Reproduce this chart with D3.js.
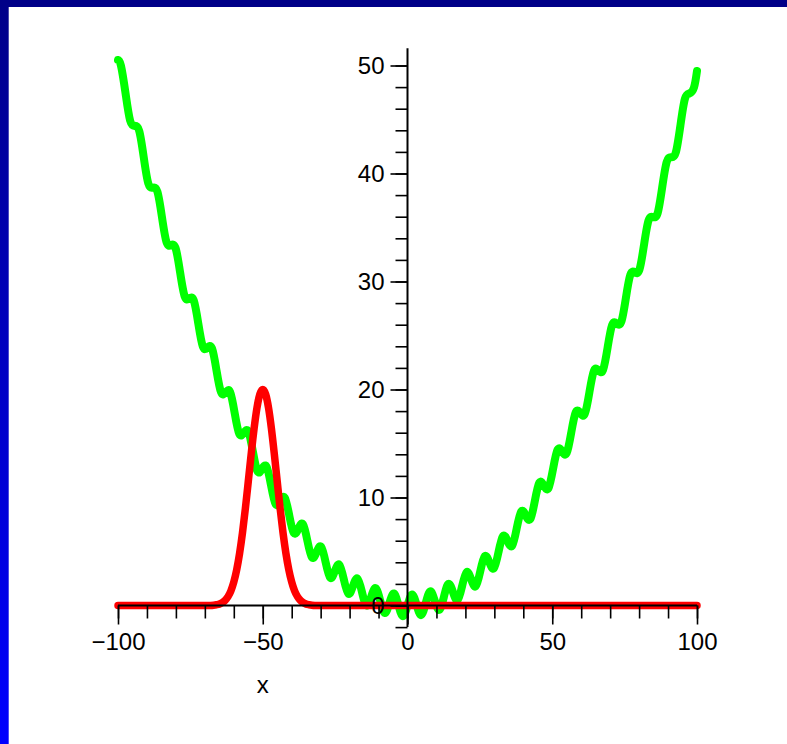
<!DOCTYPE html>
<html>
<head>
<meta charset="utf-8">
<script src="https://cdn.jsdelivr.net/npm/d3@7"></script>
<style>
  html, body { margin: 0; padding: 0; background: #ffffff; }
  svg { display: block; }
  text { font-family: "Liberation Sans", Arial, Helvetica, sans-serif; }
</style>
</head>
<body>
<svg id="chart" width="787" height="744"></svg>
<script>
// ---------- data ----------
const xMajorTicks = [-100, -50, 0, 50, 100];
const xMinorTicks = [-100, -90, -80, -70, -60, -50, -40, -30, -20, -10, 0, 10, 20, 30, 40, 50, 60, 70, 80, 90, 100];
const yMajorTicks = [0, 10, 20, 30, 40, 50];
const yMinorTicks = [-2, 0, 2, 4, 6, 8, 10, 12, 14, 16, 18, 20, 22, 24, 26, 28, 30, 32, 34, 36, 38, 40, 42, 44, 46, 48, 50];
const xLabel = "x";

// green curve samples (x, y)
const greenX = [-100, -98.96, -97.39, -95.82, -94.25, -92.68, -91.11, -89.54, -87.96, -86.39, -84.82,
  -83.25, -81.68, -80.11, -78.54, -76.97, -75.40, -73.83, -72.26, -70.69, -69.12,
  -67.54, -65.97, -64.40, -62.83, -61.26, -59.69, -58.12, -56.55, -54.98, -53.41,
  -51.84, -50.27, -48.69, -47.12, -45.55, -43.98, -42.41, -40.84, -39.27, -37.70,
  -36.13, -34.56, -32.99, -31.42, -29.85, -28.27, -26.70, -25.13, -23.56, -21.99,
  -20.42, -18.85, -17.28, -15.71, -14.14, -12.57, -11.00, -9.42, -7.85, -6.28,
  -4.71, -3.14, -1.57, 0,
  1.57, 3.14, 4.71, 6.28, 7.85, 9.42, 11.00, 12.57, 14.14, 15.71,
  17.28, 18.85, 20.42, 21.99, 23.56, 25.13, 26.70, 28.27, 29.85, 31.42,
  32.99, 34.56, 36.13, 37.70, 39.27, 40.84, 42.41, 43.98, 45.55, 47.12,
  48.69, 50.27, 51.84, 53.41, 54.98, 56.55, 58.12, 59.69, 61.26, 62.83,
  64.40, 65.97, 67.54, 69.12, 70.69, 72.26, 73.83, 75.40, 76.97, 78.54,
  80.11, 81.68, 83.25, 84.82, 86.39, 87.96, 89.54, 91.11, 92.68, 94.25,
  95.82, 97.39, 98.96, 100];
const greenY = [50.51, 49.97, 47.42, 44.91, 44.41, 43.95, 41.50, 39.08, 38.69, 38.32, 35.97,
  33.65, 33.36, 33.09, 30.84, 28.62, 28.42, 28.25, 26.11, 23.98, 23.88,
  23.81, 21.76, 19.74, 19.74, 19.76, 17.81, 15.89, 15.99, 16.11, 14.26,
  12.43, 12.63, 12.86, 11.10, 9.38, 9.67, 9.99, 8.34, 6.71, 7.11,
  7.53, 5.97, 4.44, 4.93, 5.45, 4.00, 2.57, 3.16, 3.78, 2.42,
  1.09, 1.78, 2.49, 1.23, 0.00, 0.79, 1.60, 0.44, -0.69, 0.20,
  1.11, 0.05, -0.99, 0,
  1.01, 0.05, -0.89, 0.20, 1.31, 0.44, -0.40, 0.79, 2.00, 1.23,
  0.49, 1.78, 3.09, 2.42, 1.78, 3.16, 4.57, 4.00, 3.45, 4.93,
  6.44, 5.97, 5.53, 7.11, 8.71, 8.34, 7.99, 9.67, 11.38, 11.10,
  10.86, 12.63, 14.43, 14.26, 14.11, 15.99, 17.89, 17.81, 17.76, 19.74,
  21.74, 21.76, 21.81, 23.88, 25.98, 26.11, 26.25, 28.42, 30.62, 30.84,
  31.09, 33.36, 35.65, 35.97, 36.32, 38.69, 41.08, 41.50, 41.95, 44.41,
  46.91, 47.42, 47.97, 49.49];

// red curve samples (x, y)
const redX = [-100, -70, -68, -67, -66, -65, -64, -63, -62, -61, -60, -59, -58, -57, -56, -55, -54, -53, -52, -51,
  -50, -49, -48, -47, -46, -45, -44, -43, -42, -41, -40, -39, -38, -37, -36, -35, -34, -33, -32, -30, 100];
const redY = [0, 0, 0.01, 0.03, 0.07, 0.13, 0.26, 0.47, 0.82, 1.36, 2.17, 3.31, 4.82, 6.73, 8.99, 11.48, 14.02, 16.37, 18.30, 19.56,
  20, 19.56, 18.30, 16.37, 14.02, 11.48, 8.99, 6.73, 4.82, 3.31, 2.17, 1.36, 0.82, 0.47, 0.26, 0.13, 0.07, 0.03, 0.01, 0, 0];

// ---------- drawing ----------
const W = 787, H = 744;
const svg = d3.select("#chart");

// frame: dark blue top band and vertical gradient left band
const defs = svg.append("defs");
const grad = defs.append("linearGradient").attr("id", "leftband")
  .attr("x1", 0).attr("y1", 0).attr("x2", 0).attr("y2", 1);
grad.append("stop").attr("offset", "0%").attr("stop-color", "#000088");
grad.append("stop").attr("offset", "100%").attr("stop-color", "#0000ff");
svg.append("rect").attr("x", 0).attr("y", 0).attr("width", W).attr("height", H).attr("fill", "#ffffff");
svg.append("rect").attr("x", 0).attr("y", 0).attr("width", W).attr("height", 7).attr("fill", "#000088");
svg.append("rect").attr("x", 0).attr("y", 0).attr("width", 8.7).attr("height", H).attr("fill", "url(#leftband)");

const x = d3.scaleLinear().domain([-100, 100]).range([118, 697]);
const y = d3.scaleLinear().domain([0, 50]).range([605.5, 65.5]);

const greenPts = greenX.map((v, i) => [v, greenY[i]]);
const redPts = redX.map((v, i) => [v, redY[i]]);

const lineG = d3.line().x(d => x(d[0])).y(d => y(d[1])).curve(d3.curveNatural);
const lineR = d3.line().x(d => x(d[0])).y(d => y(d[1])).curve(d3.curveMonotoneX);

svg.append("path").datum(greenPts).attr("d", lineG)
  .attr("fill", "none").attr("stroke", "#00ff00").attr("stroke-width", 8)
  .attr("stroke-linecap", "round").attr("stroke-linejoin", "round");
svg.append("path").datum(redPts).attr("d", lineR)
  .attr("fill", "none").attr("stroke", "#ff0000").attr("stroke-width", 7.5)
  .attr("stroke-linecap", "round").attr("stroke-linejoin", "round");

// axes (crossing at origin)
const axisColor = "#000000";
const fs = 24;

// x axis
const xAxisG = svg.append("g").attr("transform", `translate(0,${y(0)})`);
xAxisG.append("line").attr("x1", x(-100)).attr("x2", x(100)).attr("y1", 0).attr("y2", 0)
  .attr("stroke", axisColor).attr("stroke-width", 2);
const xMinor = xAxisG.append("g").call(d3.axisBottom(x).tickValues(xMinorTicks).tickSize(13).tickFormat(""));
xMinor.select(".domain").remove();
const xMajor = xAxisG.append("g").call(d3.axisBottom(x).tickValues(xMajorTicks).tickSize(19).tickPadding(8)
  .tickFormat(d => d < 0 ? "\u2212" + Math.abs(d) : String(d)));
xMajor.select(".domain").remove();
xAxisG.selectAll(".tick line").attr("stroke", axisColor).attr("stroke-width", 1.6);
xAxisG.selectAll(".tick text").attr("fill", "#000").style("font-size", fs + "px")
  .style("font-family", '"Liberation Sans", Arial, sans-serif');

// y axis
const yAxisG = svg.append("g").attr("transform", `translate(${x(0)},0)`);
yAxisG.append("line").attr("x1", 0).attr("x2", 0).attr("y1", y(-2)).attr("y2", y(51.6))
  .attr("stroke", axisColor).attr("stroke-width", 2);
const yMinor = yAxisG.append("g").call(d3.axisLeft(y).tickValues(yMinorTicks).tickSize(12).tickFormat(""));
yMinor.select(".domain").remove();
const yMajor = yAxisG.append("g").call(d3.axisLeft(y).tickValues(yMajorTicks).tickSize(17).tickPadding(6)
  .tickFormat(d => String(d)));
yMajor.select(".domain").remove();
yAxisG.selectAll(".tick line").attr("stroke", axisColor).attr("stroke-width", 1.6);
yAxisG.selectAll(".tick text").attr("fill", "#000").style("font-size", fs + "px")
  .style("font-family", '"Liberation Sans", Arial, sans-serif');

// axis title
svg.append("text").attr("x", x(-50)).attr("y", y(0) + 87)
  .attr("text-anchor", "middle").attr("fill", "#000")
  .style("font-size", fs + "px").text(xLabel);
</script>
</body>
</html>
